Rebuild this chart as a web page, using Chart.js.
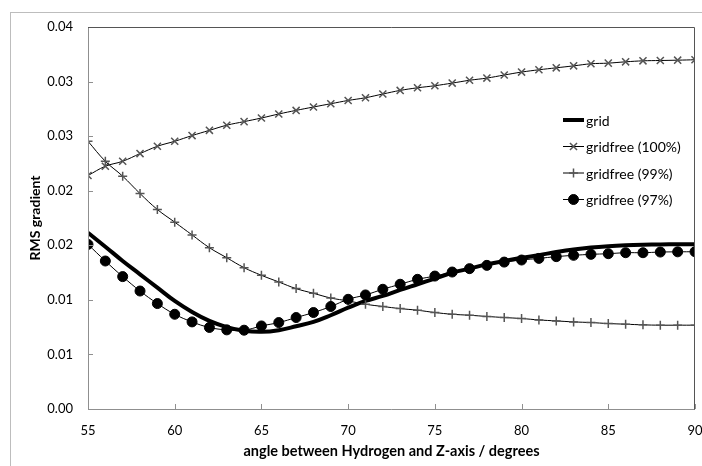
<!DOCTYPE html>
<html>
<head>
<meta charset="utf-8">
<script src="https://cdn.jsdelivr.net/npm/chart.js@4.4.1/dist/chart.umd.min.js"></script>
<style>
  html, body { margin: 0; padding: 0; background: #fff; overflow: hidden; }
</style>
</head>
<body>
<canvas id="chart" width="702" height="466"></canvas>
<script>
// angle between Hydrogen and Z-axis (degrees)
const angles = [55, 56, 57, 58, 59, 60, 61, 62, 63, 64, 65, 66, 67, 68, 69, 70, 71, 72,
                73, 74, 75, 76, 77, 78, 79, 80, 81, 82, 83, 84, 85, 86, 87, 88, 89, 90];

// RMS gradient values
const grid = [0.01615, 0.01487, 0.01356, 0.01234, 0.01112, 0.0099, 0.00889, 0.00807, 0.0075,
              0.00716, 0.00707, 0.00722, 0.00758, 0.00798, 0.00859, 0.00928, 0.0099, 0.01036,
              0.01091, 0.01143, 0.01195, 0.01248, 0.01286, 0.01325, 0.01356, 0.01385, 0.0141,
              0.01438, 0.01462, 0.0148, 0.01492, 0.015, 0.01505, 0.01508, 0.0151, 0.0151];
const gridfree100 = [0.02139, 0.02224, 0.0227, 0.0234, 0.02407, 0.02453, 0.02505, 0.02553, 0.026,
                     0.02633, 0.02666, 0.02703, 0.02736, 0.02767, 0.02797, 0.02827, 0.02852, 0.02886,
                     0.02919, 0.02943, 0.02962, 0.02986, 0.03012, 0.03032, 0.0306, 0.03087, 0.03108,
                     0.03126, 0.03144, 0.03163, 0.03169, 0.03181, 0.0319, 0.03193, 0.03196, 0.032];
const gridfree99 = [0.02453, 0.0227, 0.02133, 0.01974, 0.01828, 0.01712, 0.01595, 0.01478, 0.01386,
                    0.01295, 0.01225, 0.01164, 0.01103, 0.0106, 0.01017, 0.0099, 0.0096, 0.00939,
                    0.0092, 0.00905, 0.00884, 0.00868, 0.00859, 0.00848, 0.00838, 0.00829, 0.00816,
                    0.00807, 0.00798, 0.00792, 0.00783, 0.00777, 0.00771, 0.00768, 0.00768, 0.00768];
const gridfree97 = [0.01508, 0.01356, 0.01213, 0.01081, 0.00966, 0.00868, 0.00798, 0.00747, 0.00725,
                    0.00722, 0.00761, 0.00792, 0.00838, 0.00884, 0.00939, 0.01005, 0.01045, 0.01097,
                    0.01143, 0.01188, 0.01218, 0.01255, 0.01286, 0.01316, 0.01346, 0.01365, 0.0138,
                    0.01396, 0.01408, 0.01417, 0.01423, 0.01432, 0.01432, 0.01438, 0.0144, 0.01441];

// y tick labels as printed (2 decimals, step 0.005)
const yTickLabels = ["0.00", "0.01", "0.01", "0.02", "0.02", "0.03", "0.03", "0.04"];

const FONT = "Lato, 'Liberation Sans', sans-serif";

function toPoints(vals) {
  return angles.map((a, i) => ({ x: a, y: vals[i] }));
}

// outer chart frame + plot box + inward tick marks
const framePlugin = {
  id: 'frame',
  beforeDraw(chart) {
    const ctx = chart.ctx;
    ctx.save();
    ctx.strokeStyle = '#bdbdbd';
    ctx.lineWidth = 1;
    ctx.strokeRect(10.5, 12.5, 2000, 2000);
    ctx.restore();
  },
  afterDatasetsDraw(chart) {
    const { ctx, chartArea: a, scales } = chart;
    ctx.save();
    ctx.lineWidth = 1;
    // left and bottom axis lines
    ctx.strokeStyle = '#8f8f8f';
    ctx.beginPath();
    ctx.moveTo(a.left + 0.5, a.top);
    ctx.lineTo(a.left + 0.5, a.bottom + 0.5);
    ctx.lineTo(a.right, a.bottom + 0.5);
    ctx.stroke();
    // ticks pointing inward
    scales.y.ticks.forEach(t => {
      const y = Math.round(scales.y.getPixelForValue(t.value)) + 0.5;
      ctx.beginPath();
      ctx.moveTo(a.left, y);
      ctx.lineTo(a.left + 5, y);
      ctx.stroke();
    });
    scales.x.ticks.forEach(t => {
      const x = Math.round(scales.x.getPixelForValue(t.value)) + 0.5;
      ctx.beginPath();
      ctx.moveTo(x, a.bottom);
      ctx.lineTo(x, a.bottom - 5);
      ctx.stroke();
    });
    // top and right border
    ctx.strokeStyle = '#555';
    ctx.beginPath();
    ctx.moveTo(a.left, a.top + 0.5);
    ctx.lineTo(a.right - 0.5, a.top + 0.5);
    ctx.lineTo(a.right - 0.5, a.bottom + 0.5);
    ctx.stroke();
    ctx.restore();
  }
};

// legend drawn inside the plot area
const legendPlugin = {
  id: 'insideLegend',
  afterDraw(chart) {
    const ctx = chart.ctx;
    const x0 = 563, x1 = 584, y0 = 120, gap = 26.5;
    chart.data.datasets.forEach((ds, i) => {
      const y = y0 + i * gap;
      ctx.save();
      ctx.strokeStyle = ds.borderColor;
      ctx.lineWidth = ds.borderWidth;
      ctx.beginPath();
      ctx.moveTo(x0, y);
      ctx.lineTo(x1, y);
      ctx.stroke();
      if (ds.pointRadius > 0) {
        ctx.strokeStyle = ds.pointBorderColor;
        ctx.fillStyle = ds.pointBackgroundColor;
        ctx.lineWidth = ds.pointBorderWidth;
        Chart.helpers.drawPoint(ctx, {
          pointStyle: ds.pointStyle,
          radius: ds.pointRadius,
          borderWidth: ds.pointBorderWidth,
          rotation: 0
        }, (x0 + x1) / 2, y);
      }
      ctx.fillStyle = '#000';
      ctx.font = '14px ' + FONT;
      ctx.textBaseline = 'middle';
      ctx.textAlign = 'left';
      ctx.fillText(ds.label, x1 + 2, y + 1);
      ctx.restore();
    });
  }
};

new Chart(document.getElementById('chart'), {
  type: 'line',
  data: {
    datasets: [
      {
        label: 'grid',
        data: toPoints(grid),
        borderColor: '#000',
        borderWidth: 4,
        pointRadius: 0,
        tension: 0.4,
        order: 4
      },
      {
        label: 'gridfree (100%)',
        data: toPoints(gridfree100),
        borderColor: '#000',
        borderWidth: 1,
        pointStyle: 'crossRot',
        pointRadius: 5,
        pointBorderColor: '#555',
        pointBackgroundColor: '#555',
        pointBorderWidth: 1.5,
        tension: 0.4,
        order: 3
      },
      {
        label: 'gridfree (99%)',
        data: toPoints(gridfree99),
        borderColor: '#000',
        borderWidth: 1,
        pointStyle: 'cross',
        pointRadius: 4.5,
        pointBorderColor: '#555',
        pointBackgroundColor: '#555',
        pointBorderWidth: 1.5,
        tension: 0.4,
        order: 2
      },
      {
        label: 'gridfree (97%)',
        data: toPoints(gridfree97),
        borderColor: '#000',
        borderWidth: 1,
        pointStyle: 'circle',
        pointRadius: 5,
        pointBorderColor: '#000',
        pointBackgroundColor: '#000',
        pointBorderWidth: 1,
        tension: 0.4,
        order: 1
      }
    ]
  },
  options: {
    responsive: false,
    devicePixelRatio: 1,
    animation: false,
    layout: { autoPadding: false, padding: { left: 0, top: 27, right: 7, bottom: 0 } },
    plugins: {
      legend: { display: false },
      tooltip: { enabled: false }
    },
    scales: {
      x: {
        type: 'linear',
        min: 55,
        max: 90,
        ticks: { stepSize: 5, padding: 14, color: '#000', font: { family: FONT, size: 13 } },
        grid: { display: false, drawTicks: false },
        border: { display: false },
        title: {
          display: true,
          text: 'angle between Hydrogen and Z-axis / degrees',
          color: '#000',
          font: { family: FONT, size: 14.5, weight: 'bold' },
          padding: { top: 0, bottom: 6 }
        },
        afterFit: s => {
          s.height = 57;
          s.paddingLeft = 0;
          s.paddingRight = 0;
        }
      },
      y: {
        min: 0,
        max: 0.035,
        ticks: {
          stepSize: 0.005,
          padding: 15,
          color: '#000',
          font: { family: FONT, size: 13 },
          callback: (v, i) => yTickLabels[i]
        },
        grid: { display: false, drawTicks: false },
        border: { display: false },
        title: {
          display: true,
          text: 'RMS gradient',
          color: '#000',
          font: { family: FONT, size: 14, weight: 'bold' },
          padding: { top: 27, bottom: 0 }
        },
        afterFit: s => {
          s.width = 88;
          s.paddingTop = 0;
          s.paddingBottom = 0;
        }
      }
    }
  },
  plugins: [framePlugin, legendPlugin]
});
</script>
</body>
</html>
